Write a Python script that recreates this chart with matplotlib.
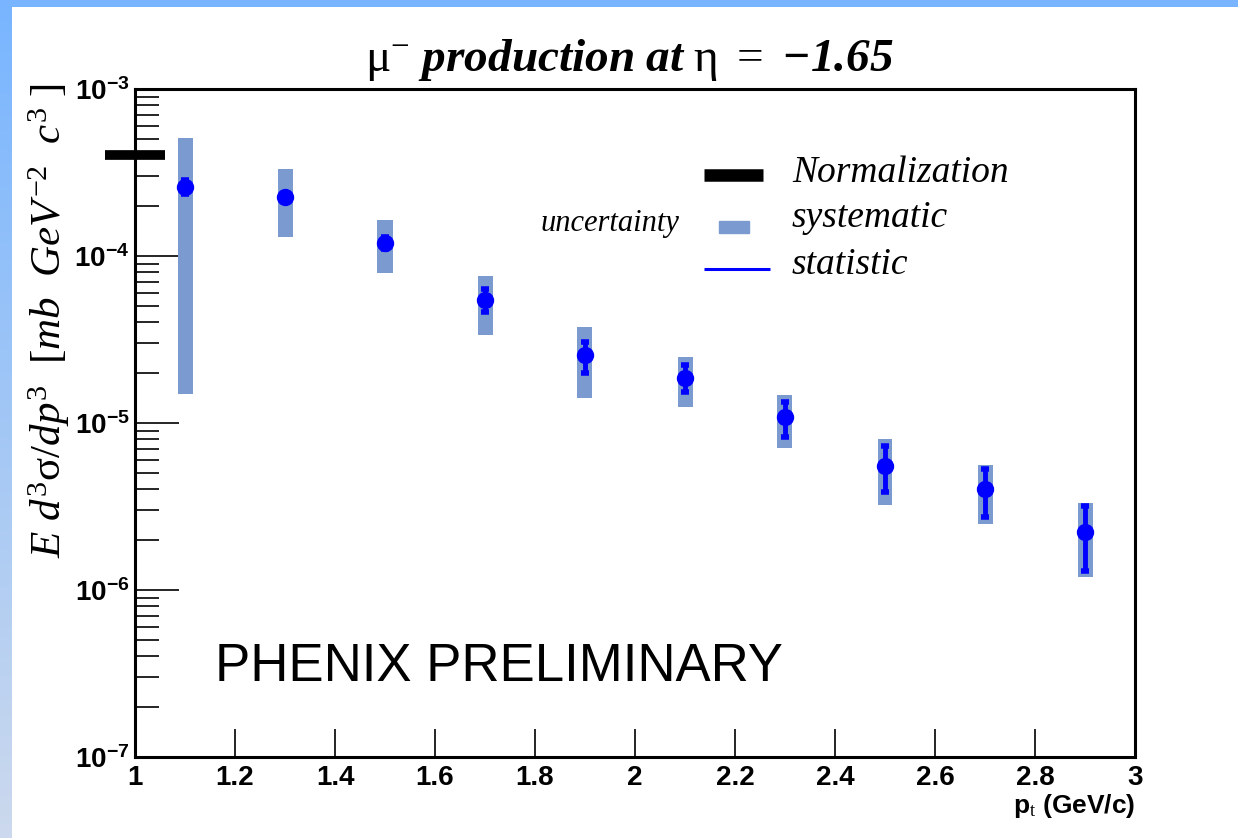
import numpy as np
import matplotlib
matplotlib.use("Agg")
import matplotlib.pyplot as plt
from matplotlib.ticker import FixedLocator, LogLocator, NullFormatter, FuncFormatter

plt.rcParams['mathtext.fontset'] = 'custom'
plt.rcParams['mathtext.rm'] = 'Liberation Serif'
plt.rcParams['mathtext.it'] = 'Liberation Serif:italic'
plt.rcParams['mathtext.bf'] = 'Liberation Sans:bold'
plt.rcParams['mathtext.bfit'] = 'Liberation Serif:italic:bold'

# data
pt = [1.1, 1.3, 1.5, 1.7, 1.9, 2.1, 2.3, 2.5, 2.7, 2.9]
xsec = [2.59e-4, 2.26e-4, 1.20e-4, 5.45e-5, 2.55e-5, 1.86e-5, 1.09e-5, 5.53e-6, 4.03e-6, 2.22e-6]
stat_hi = [2.85e-4, 2.40e-4, 1.30e-4, 6.34e-5, 3.05e-5, 2.22e-5, 1.34e-5, 7.3e-6, 5.3e-6, 3.18e-6]
stat_lo = [2.35e-4, 2.10e-4, 1.10e-4, 4.62e-5, 1.99e-5, 1.53e-5, 8.2e-6, 3.86e-6, 2.74e-6, 1.30e-6]
syst_hi = [5.09e-4, 3.32e-4, 1.64e-4, 7.6e-5, 3.76e-5, 2.48e-5, 1.47e-5, 8.0e-6, 5.6e-6, 3.32e-6]
syst_lo = [1.49e-5, 1.30e-4, 7.9e-5, 3.37e-5, 1.41e-5, 1.25e-5, 7.1e-6, 3.23e-6, 2.48e-6, 1.20e-6]
norm_value = 4.0e-4
norm_pt = [0.94, 1.06]
xticks = [1, 1.2, 1.4, 1.6, 1.8, 2, 2.2, 2.4, 2.6, 2.8, 3]
xticklabels = ["1", "1.2", "1.4", "1.6", "1.8", "2", "2.2", "2.4", "2.6", "2.8", "3"]

pt = np.array(pt)
xsec = np.array(xsec)
syst_hi = np.array(syst_hi)
syst_lo = np.array(syst_lo)
yerr = [xsec - np.array(stat_lo), np.array(stat_hi) - xsec]

syst_color = "#7b9ad0"
blue = "#0000ff"

fig = plt.figure(figsize=(12.38, 8.38), dpi=100)

# blue frame strips of the slide
grad = np.linspace(0, 1, 256).reshape(-1, 1)
top_c = np.array([0.47, 0.71, 1.0])
bot_c = np.array([0.80, 0.85, 0.93])
img = top_c[None, None, :] * (1 - grad[:, :, None]) + bot_c[None, None, :] * grad[:, :, None]
sax = fig.add_axes([0, 0, 12 / 1238, 1])
sax.imshow(img, aspect="auto", extent=[0, 1, 0, 1], origin="upper")
sax.axis("off")
tax = fig.add_axes([0, 1 - 7 / 838, 1, 7 / 838])
tax.set_facecolor("#78b4ff")
tax.set_xticks([])
tax.set_yticks([])
for s in tax.spines.values():
    s.set_visible(False)

ax = fig.add_axes([135 / 1238, 81 / 838, 1000 / 1238, 668 / 838])
ax.set_yscale("log")
ax.set_xlim(1, 3)
ax.set_ylim(1e-7, 1e-3)

ax.bar(pt, syst_hi - syst_lo, bottom=syst_lo, width=0.03, color=syst_color, zorder=2)
ax.errorbar(pt, xsec, yerr=yerr, fmt="o", color=blue, ms=11.5, mec=blue,
            elinewidth=3.5, capsize=3, capthick=4, zorder=3)
ax.plot(norm_pt, [norm_value, norm_value], color="black", lw=7, solid_capstyle="butt",
        clip_on=False, zorder=4)

for s in ax.spines.values():
    s.set_linewidth(2.2)

ax.xaxis.set_major_locator(FixedLocator(xticks))
ax.set_xticklabels(xticklabels)
ax.yaxis.set_major_locator(LogLocator(base=10, numticks=10))
ax.yaxis.set_minor_locator(LogLocator(base=10, subs=np.arange(2, 10), numticks=10))
ax.yaxis.set_minor_formatter(NullFormatter())
ax.yaxis.set_major_formatter(FuncFormatter(lambda v, p: r"$\mathbf{10^{%d}}$" % round(np.log10(v))))
ax.tick_params(axis="x", direction="in", length=20, width=1.2, pad=6, top=False)
ax.tick_params(axis="y", which="major", direction="in", length=32, width=1.2, pad=4, right=False)
ax.tick_params(axis="y", which="minor", direction="in", length=17, width=1.2, right=False)
for lab in ax.get_xticklabels():
    lab.set_fontfamily("Liberation Sans")
    lab.set_fontweight("bold")
    lab.set_fontsize(20)
for lab in ax.get_yticklabels():
    lab.set_fontsize(20)

# legend drawn ROOT style
ax.plot([0.569, 0.628], [0.871, 0.871], color="black", lw=9, solid_capstyle="butt",
        transform=ax.transAxes)
ax.add_patch(plt.Rectangle((0.584, 0.784), 0.030, 0.019, color=syst_color, transform=ax.transAxes))
ax.plot([0.569, 0.635], [0.7305, 0.7305], color=blue, lw=2.2, solid_capstyle="butt",
        transform=ax.transAxes)
lkw = dict(family="Liberation Serif", style="italic", fontsize=27, va="center", transform=ax.transAxes)
ax.text(0.657, 0.874, "Normalization", **lkw)
ax.text(0.657, 0.807, "systematic", **lkw)
ax.text(0.657, 0.737, "statistic", **lkw)
ax.text(0.405, 0.799, "uncertainty", family="Liberation Serif", style="italic", fontsize=22,
        va="center", transform=ax.transAxes)

ax.text(0.08, 0.134, "PHENIX PRELIMINARY", family="Liberation Sans", fontsize=38,
        va="center", transform=ax.transAxes)

fig.text(0.508, 0.928, r"$\mathrm{\mu}^{-}\ \mathbfit{production\ at}\ \mathrm{\eta}\ =\ \mathbfit{-1.65}$",
         fontsize=34, ha="center", va="center")
fig.text(0.040, (838 - 83) / 838, r"$E\ d^{3}\mathrm{\sigma}/dp^{3}\ \ [mb\ \ GeV^{-2}\ \ c^{3}\ ]$",
         fontsize=31, rotation=90, ha="center", va="top")
fig.text(1135 / 1238, (838 - 792) / 838, r"p$_{\rm t}$ (GeV/c)", family="Liberation Sans",
         fontweight="bold", fontsize=19, ha="right", va="top")

fig.savefig("out.png", dpi=100)
